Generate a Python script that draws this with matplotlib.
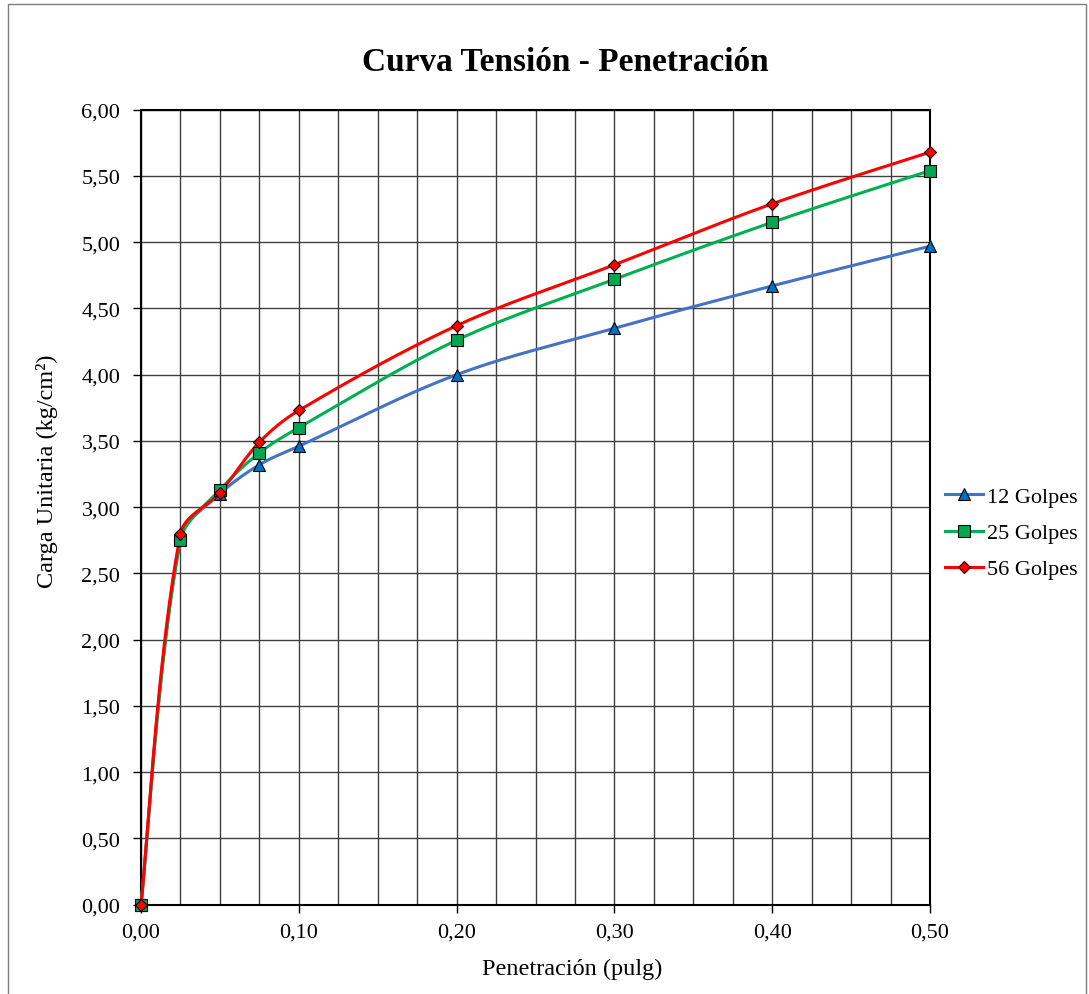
import matplotlib
matplotlib.use("Agg")
import matplotlib.pyplot as plt
import numpy as np
from matplotlib.patches import Rectangle
from matplotlib.ticker import FuncFormatter, MultipleLocator

# penetracion (pulg) y carga unitaria (kg/cm2) por numero de golpes
penetracion = [0.0, 0.025, 0.05, 0.075, 0.10, 0.20, 0.30, 0.40, 0.50]
golpes_12 = [0.00, 2.76, 3.10, 3.32, 3.46, 4.00, 4.35, 4.67, 4.97]
golpes_25 = [0.00, 2.75, 3.13, 3.41, 3.60, 4.26, 4.72, 5.15, 5.54]
golpes_56 = [0.00, 2.80, 3.11, 3.49, 3.73, 4.37, 4.83, 5.29, 5.68]
labels = ["12 Golpes", "25 Golpes", "56 Golpes"]

plt.rcParams["font.family"] = ["Liberation Serif", "DejaVu Serif"]

FIG_W, FIG_H = 1089, 995
AX_RECT = [0.1295, 0.0899, 0.7245, 0.7988]


def smooth(x, y, xr, yr, n=40):
    # bezier smoothing with tangents weighted by chord length (screen space)
    x = np.asarray(x, float)
    y = np.asarray(y, float)
    sx = AX_RECT[2] * FIG_W / (xr[1] - xr[0])
    sy = AX_RECT[3] * FIG_H / (yr[1] - yr[0])
    P = np.column_stack([x * sx, y * sy])
    m = len(P)
    d = np.r_[np.hypot(*np.diff(P, axis=0).T)]
    t = np.linspace(0, 1, n)[:, None]
    out = []
    for i in range(m - 1):
        i0, i3 = max(i - 1, 0), min(i + 2, m - 1)
        p0, p3 = P[i], P[i + 1]
        d01 = d[i - 1] if i > 0 else d[i]
        d12 = d[i]
        d23 = d[i + 1] if i + 1 < m - 1 else d[i]
        c1 = p0 + (p3 - P[i0]) * d12 / (d01 + d12) / 3
        c2 = p3 - (P[i3] - p0) * d12 / (d12 + d23) / 3
        b = (1 - t) ** 3 * p0 + 3 * (1 - t) ** 2 * t * c1 \
            + 3 * (1 - t) * t ** 2 * c2 + t ** 3 * p3
        out.append(b)
    b = np.vstack(out)
    return b[:, 0] / sx, b[:, 1] / sy


def coma(v, _):
    return f"{v:.2f}".replace(".", ",")


fig = plt.figure(figsize=(FIG_W / 100, FIG_H / 100), dpi=100)
fig.patches.append(Rectangle((8 / FIG_W, -0.01), 1078 / FIG_W, 1.005,
                             transform=fig.transFigure, fill=False,
                             edgecolor="#7f7f7f", lw=1))
ax = fig.add_axes(AX_RECT)
xr, yr = (0, 0.5), (0, 6)

series = [
    (golpes_12, "#4472C4", "^", "#0070C0", 9),
    (golpes_25, "#00B050", "s", "#00A650", 8.5),
    (golpes_56, "#FF0000", "D", "#FF0000", 6.5),
]
for (vals, lc, mk, mc, ms), lab in zip(series, labels):
    cx, cy = smooth(penetracion, vals, xr, yr)
    ax.plot(cx, cy, color=lc, lw=2.2, zorder=3, clip_on=False)
    ax.plot(penetracion, vals, ls="none", marker=mk, ms=ms, mfc=mc,
            mec="black", mew=0.8, zorder=4, clip_on=False)
    ax.plot([], [], color=lc, lw=2.2, marker=mk, ms=ms, mfc=mc,
            mec="black", mew=0.8, label=lab)

ax.set_xlim(*xr)
ax.set_ylim(*yr)
ax.xaxis.set_major_locator(MultipleLocator(0.1))
ax.xaxis.set_minor_locator(MultipleLocator(0.025))
ax.yaxis.set_major_locator(MultipleLocator(0.5))
ax.xaxis.set_major_formatter(FuncFormatter(coma))
ax.yaxis.set_major_formatter(FuncFormatter(coma))
ax.grid(True, which="both", axis="x", color="#404040", lw=1)
ax.grid(True, which="major", axis="y", color="#404040", lw=1)
ax.set_axisbelow(True)
ax.tick_params(axis="both", which="major", direction="out", length=6,
               width=1, labelsize=16)
ax.tick_params(axis="y", pad=9)
ax.tick_params(axis="x", pad=7)
ax.tick_params(axis="x", which="minor", length=0)
for s in ax.spines.values():
    s.set_color("black")
    s.set_linewidth(1.5)

ax.set_xlabel("Penetración (pulg)", fontsize=17.5)
ax.set_ylabel("Carga Unitaria (kg/cm²)", fontsize=17.5)
ax.xaxis.set_label_coords(0.546, -0.067)
ax.yaxis.set_label_coords(-0.105, 0.547)
fig.text(0.519, 0.9367, "Curva Tensión - Penetración", ha="center", va="center",
         fontsize=24, fontweight="bold")

ax.legend(loc="center left", bbox_to_anchor=(0.8595, 0.4633),
          bbox_transform=fig.transFigure, frameon=False, fontsize=16,
          handlelength=1.7, handletextpad=0.2, labelspacing=0.7,
          borderaxespad=0)

fig.savefig("out.png", dpi=100)
